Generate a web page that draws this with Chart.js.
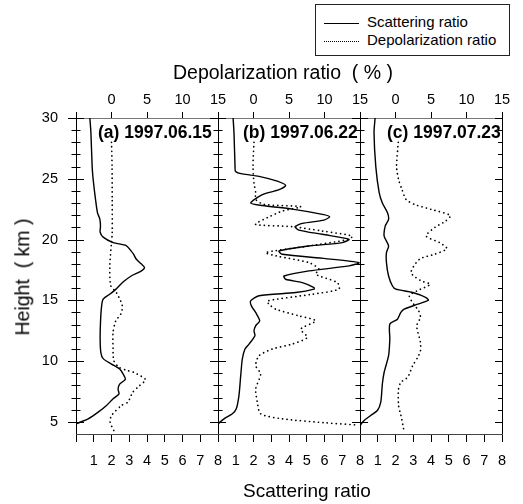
<!DOCTYPE html>
<html>
<head>
<meta charset="utf-8">
<script src="https://cdn.jsdelivr.net/npm/chart.js@4.4.1/dist/chart.umd.min.js"></script>
<style>
    body { margin: 0; background: #fff; }
    #wrap { position: relative; width: 523px; height: 504px; font-family: 'Liberation Sans', Arial, sans-serif; color: #000; }
    #wrap canvas { position: absolute; left: 0; top: 0; }
    .txt { position: absolute; white-space: nowrap; line-height: 1; }
    .panel { font-weight: bold; font-size: 17.5px; top: 124px; }
    #legend { position: absolute; left: 315px; top: 4px; width: 193px; height: 50px; border: 1px solid #222; background: #fff; }
    #legend .smp { position: absolute; left: 8px; width: 35px; height: 0; }
    #legend .lbl { position: absolute; left: 51px; font-size: 15px; line-height: 1; white-space: nowrap; }
</style>
</head>
<body>
<div id="wrap">
    <canvas id="chart" width="523" height="504"></canvas>

    <div id="legend">
        <div class="smp" style="top:18px; border-top:1.5px solid #000;"></div>
        <div class="lbl" style="top:9px;">Scattering ratio</div>
        <div class="smp" style="top:36px; border-top:1.5px dotted #000;"></div>
        <div class="lbl" style="top:27px;">Depolarization ratio</div>
    </div>

    <div class="txt" style="left:173px; top:63px; font-size:19.5px;">Depolarization ratio&nbsp;&nbsp;(&nbsp;%&nbsp;)</div>
    <div class="txt" style="left:307px; top:481px; font-size:19px; transform:translateX(-50%);">Scattering ratio</div>
    <div class="txt" style="left:23px; top:277px; font-size:19.5px; transform:translate(-50%,-50%) rotate(-90deg);">Height&nbsp;&nbsp;(&nbsp;km&nbsp;)</div>

    <div class="txt panel" style="left:98px;">(a) 1997.06.15</div>
    <div class="txt panel" style="left:243px;">(b) 1997.06.22</div>
    <div class="txt panel" style="left:387px;">(c) 1997.07.23</div>
</div>

<script>
    // tick labels
    var heightTicks = [5, 10, 15, 20, 25, 30];
    var scatterTicks = [0, 1, 2, 3, 4, 5, 6, 7, 8];
    var depolTicks = [-5, 0, 5, 10, 15];

    // (a) 1997.06.15
    var heightA = [30, 28.8, 26.0, 24.9, 23.3, 22.2, 21.7, 21.1, 20.6, 20.2, 19.75, 19.5, 19.05, 18.8, 18.4, 18.0, 17.7, 17.4, 17.0, 16.5, 15.9, 15.5, 15.1, 14.5, 13.2, 11.8, 10.7, 10.2, 9.75, 9.35, 8.95, 8.5, 8.1, 7.7, 7.3, 6.9, 6.35, 5.8, 5.25, 4.85, 4.7];
    var scatA = [0.78, 0.84, 0.91, 0.97, 1.10, 1.21, 1.34, 1.38, 1.36, 1.53, 2.09, 2.83, 3.11, 3.24, 3.39, 3.67, 3.86, 3.67, 3.11, 2.65, 2.24, 1.90, 1.53, 1.44, 1.38, 1.36, 1.40, 1.53, 2.0, 2.46, 2.65, 2.78, 2.46, 2.37, 2.42, 2.09, 1.72, 1.25, 0.69, 0.04, 0];
    var depolHeightA = [28.0, 26.0, 23.3, 20.6, 19.75, 17.8, 16.2, 15.64, 14.54, 13.86, 13.31, 12.36, 11.0, 10.04, 9.49, 9.21, 9.08, 8.48, 7.98, 7.44, 6.62, 6.34, 5.52, 4.98, 4.29];
    var depolA = [0, 0.08, 0.1, 0.1, 0, -0.24, -0.1, 0.69, 1.53, 1.3, 0.6, 0.22, 0.22, 0.32, 1.06, 2.3, 3.1, 4.79, 3.95, 3.0, 2.3, 1.39, 0, -0.2, 0.32];

    // (b) 1997.06.22
    var heightB = [30, 28.8, 26.0, 25.6, 25.4, 25.2, 24.8, 24.45, 24.1, 23.7, 23.0, 22.8, 22.5, 22.07, 21.88, 21.6, 21.33, 21.06, 20.78, 20.43, 20.02, 19.75, 19.47, 19.06, 18.79, 18.43, 18.1, 17.83, 17.42, 17.0, 16.73, 16.46, 16.05, 15.92, 15.64, 15.37, 14.95, 14.54, 14.0, 13.31, 12.9, 12.49, 12.08, 11.4, 10.99, 10.17, 8.8, 7.16, 6.07, 5.66, 5.25, 4.84];
    var scatB = [0.85, 0.90, 0.96, 0.99, 1.37, 2.31, 3.34, 3.81, 3.44, 2.5, 1.84, 2.5, 4.19, 5.88, 6.29, 5.97, 4.75, 4.34, 4.56, 5.88, 7.38, 7.0, 5.13, 3.44, 3.62, 6.07, 7.94, 7.38, 5.13, 3.72, 3.81, 4.75, 5.41, 5.41, 4.38, 2.31, 1.84, 1.88, 2.12, 2.35, 2.12, 2.03, 2.08, 1.75, 1.52, 1.37, 1.28, 1.18, 1.03, 0.81, 0.34, 0];
    var depolHeightB = [28.0, 26.0, 24.66, 23.84, 23.3, 22.89, 22.7, 22.34, 21.8, 21.25, 21.06, 20.7, 20.29, 20.02, 19.47, 18.93, 18.66, 18.1, 17.56, 17.15, 16.46, 15.92, 15.5, 14.95, 14.68, 14.27, 13.72, 13.31, 12.63, 11.95, 11.4, 10.99, 10.44, 9.62, 8.94, 7.71, 6.62, 5.66, 5.25, 4.92, 4.75];
    var depolB = [0.07, -0.07, 0.07, 0.31, 0.31, 1.48, 6.65, 4.06, 1.94, 0.31, 5.46, 9.69, 13.9, 13.45, 7.82, 1.72, 3.13, 7.82, 9.23, 8.76, 11.8, 12.04, 8.29, 1.94, 2.18, 3.13, 6.41, 8.76, 6.65, 7.58, 5.46, 2.65, 0.77, 0.31, 1.01, 0.31, 0.54, 1.01, 4.06, 10.17, 14.4];

    // (c) 1997.07.23
    var heightC = [30, 28.8, 26.0, 23.85, 23.0, 22.2, 21.66, 21.1, 20.29, 19.47, 18.93, 18.1, 17.0, 16.18, 15.92, 15.64, 15.23, 15.0, 14.68, 14.27, 14.0, 13.45, 13.04, 11.81, 10.44, 9.08, 8.12, 6.62, 5.93, 5.52, 5.11, 4.7];
    var scatC = [0.85, 0.79, 0.89, 1.08, 1.26, 1.55, 1.61, 1.42, 1.36, 1.61, 1.49, 1.49, 1.61, 1.83, 2.02, 2.97, 3.72, 3.85, 3.25, 2.49, 2.3, 2.11, 1.68, 1.68, 1.61, 1.36, 1.26, 1.17, 0.98, 0.6, 0.23, 0];
    var depolHeightC = [28.0, 26.0, 24.94, 24.12, 23.3, 22.89, 22.48, 21.98, 21.52, 20.98, 20.29, 19.75, 19.25, 18.79, 18.38, 17.28, 16.6, 16.32, 15.77, 15.36, 14.68, 14.13, 13.59, 12.9, 11.54, 10.85, 10.31, 9.62, 8.67, 8.26, 7.71, 6.34, 5.52, 4.43];
    var depolC = [0.39, 0.15, 0.43, 0.91, 1.48, 2.66, 5.03, 7.72, 7.06, 5.5, 4.32, 6.2, 7.24, 5.5, 3.37, 2.19, 3.61, 4.89, 2.99, 1.95, 2.56, 3.27, 3.51, 2.99, 3.51, 3.51, 3.13, 2.42, 1.71, 0.77, 0.43, 0.43, 0.77, 1.14];

    Chart.defaults.font.family = "'Liberation Sans', Arial, sans-serif";
    Chart.defaults.color = '#000';

    function profile(hs, vs) {
        return hs.map(function (h, i) { return { x: vs[i], y: h }; });
    }

    function solidSet(label, hs, vs, xid) {
        return {
            label: label, data: profile(hs, vs), xAxisID: xid, yAxisID: 'y',
            showLine: true, borderColor: '#000', borderWidth: 1.4,
            pointRadius: 0, tension: 0.25, fill: false
        };
    }

    function dottedSet(label, hs, vs, xid) {
        return {
            label: label, data: profile(hs, vs), xAxisID: xid, yAxisID: 'y',
            showLine: true, borderColor: '#000', borderWidth: 1.7,
            borderDash: [0.1, 4.4], borderCapStyle: 'round',
            pointRadius: 0, tension: 0.25, fill: false
        };
    }

    function bottomAxis() {
        return {
            type: 'linear', position: 'bottom', stack: 'bot', min: 0, max: 8,
            afterBuildTicks: function (s) { s.ticks = scatterTicks.map(function (v) { return { value: v }; }); },
            ticks: {
                padding: 10, autoSkip: false, maxRotation: 0, font: { size: 14.5 },
                callback: function (v) { return v === 0 ? '' : v; }
            },
            grid: { drawOnChartArea: false, tickLength: 8, color: '#000' },
            border: { color: '#444', width: 1 },
            afterFit: function (s) { s.height = 70; }
        };
    }

    function topAxis() {
        return {
            type: 'linear', position: 'top', stack: 'top', min: -5, max: 15,
            afterBuildTicks: function (s) { s.ticks = depolTicks.map(function (v) { return { value: v }; }); },
            ticks: {
                padding: 3, autoSkip: false, maxRotation: 0, font: { size: 14.5 },
                callback: function (v) { return v === -5 ? '' : v; }
            },
            grid: { drawOnChartArea: false, tickLength: 6, color: '#000' },
            border: { color: '#777', width: 1 },
            afterFit: function (s) { s.height = 118; }
        };
    }

    // panel borders with height ticks crossing them
    var panelFrame = {
        id: 'panelFrame',
        afterDraw: function (chart) {
            var ctx = chart.ctx, y = chart.scales.y, area = chart.chartArea;
            var xb = chart.scales.sb.left, xc = chart.scales.sc.left, xr = chart.scales.sc.right;
            ctx.save();
            ctx.strokeStyle = '#000';
            ctx.lineWidth = 1;
            ctx.beginPath();
            [xb, xc, xr].forEach(function (x) {
                x = Math.round(x) + 0.5;
                ctx.moveTo(x, area.top);
                ctx.lineTo(x, area.bottom);
            });
            for (var h = 5; h <= 30; h++) {
                var py = Math.round(y.getPixelForValue(h)) + 0.5;
                var major = h % 5 === 0;
                var l = major ? 8 : 4.5;
                [area.left, xb, xc].forEach(function (x) {
                    ctx.moveTo(x - l, py);
                    ctx.lineTo(x + l, py);
                });
                ctx.moveTo(xr - (major ? 7 : 4), py);
                ctx.lineTo(xr, py);
            }
            ctx.stroke();
            ctx.restore();
        }
    };

    new Chart(document.getElementById('chart'), {
        type: 'scatter',
        data: {
            datasets: [
                solidSet('Scattering ratio', heightA, scatA, 'sa'),
                dottedSet('Depolarization ratio', depolHeightA, depolA, 'da'),
                solidSet('Scattering ratio', heightB, scatB, 'sb'),
                dottedSet('Depolarization ratio', depolHeightB, depolB, 'db'),
                solidSet('Scattering ratio', heightC, scatC, 'sc'),
                dottedSet('Depolarization ratio', depolHeightC, depolC, 'dc')
            ]
        },
        options: {
            responsive: false,
            animation: false,
            layout: { padding: { left: 0, right: 21, top: 0, bottom: 0 } },
            scales: {
                y: {
                    type: 'linear', position: 'left', min: 4, max: 30,
                    afterBuildTicks: function (s) { s.ticks = heightTicks.map(function (v) { return { value: v }; }); },
                    ticks: { padding: 18, font: { size: 14.5 } },
                    grid: { drawOnChartArea: false, drawTicks: false },
                    border: { color: '#000', width: 1 },
                    afterFit: function (s) { s.width = 76; }
                },
                sa: bottomAxis(),
                sb: bottomAxis(),
                sc: bottomAxis(),
                // top boxes are laid out in reverse order, so list them c, b, a
                dc: topAxis(),
                db: topAxis(),
                da: topAxis()
            },
            plugins: {
                legend: { display: false },
                tooltip: { enabled: false }
            }
        },
        plugins: [panelFrame]
    });
</script>
</body>
</html>
